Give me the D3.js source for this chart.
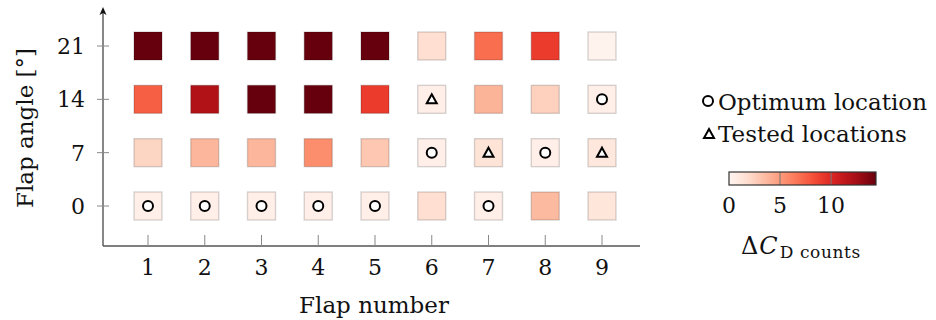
<!DOCTYPE html>
<html><head><meta charset="utf-8">
<script src="https://cdn.jsdelivr.net/npm/d3@7"></script>
<style>
html,body{margin:0;padding:0;background:#fff;}
svg{display:block;}
svg text{font-family:"DejaVu Serif",serif;}
</style></head>
<body><svg id="chart" width="936" height="320"></svg>
<script>
// ---- data ----
const flaps = [1, 2, 3, 4, 5, 6, 7, 8, 9];
const angles = [0, 7, 14, 21];
const values0  = [0.5, 0.5, 0.5, 0.5, 0.5, 1.7, 0.5, 3.6, 1.2];
const values7  = [2.3, 3.8, 3.8, 5.6, 3.0, 0.5, 1.4, 0.5, 1.1];
const values14 = [7.6, 12.0, 15.0, 15.0, 9.1, 0.5, 3.9, 2.5, 0.5];
const values21 = [15.0, 15.0, 15.0, 15.0, 15.0, 1.7, 7.0, 9.1, 0.2];
const optimumFlaps  = [1, 2, 3, 4, 5, 7, 6, 8, 9];
const optimumAngles = [0, 0, 0, 0, 0, 0, 7, 7, 14];
const testedFlaps  = [6, 7, 9];
const testedAngles = [14, 7, 7];
const xTicks = [1, 2, 3, 4, 5, 6, 7, 8, 9];
const yTicks = [0, 7, 14, 21];
const cbTicks = [0, 5, 10];
const cbMax = 14.4;

const valuesByAngle = {0: values0, 7: values7, 14: values14, 21: values21};
const cells = [];
angles.forEach(a => flaps.forEach((f, i) => cells.push({flap: f, angle: a, v: valuesByAngle[a][i]})));

const svg = d3.select("#chart");
const x = d3.scaleLinear().domain([1, 9]).range([148, 602]);
const y = d3.scaleLinear().domain([0, 21]).range([206, 46]);
const color = v => d3.interpolateReds(Math.min(v, cbMax) / cbMax);

const axisColor = "#555";
const x0 = 103, yBase = 246;
const FS = 23, TS = 22;

// squares
const S = 28;
svg.append("g").selectAll("rect").data(cells).join("rect")
  .attr("x", d => x(d.flap) - S / 2).attr("y", d => y(d.angle) - S / 2)
  .attr("width", S).attr("height", S)
  .attr("fill", d => color(d.v))
  .attr("stroke", "#000").attr("stroke-opacity", 0.16).attr("stroke-width", 1.4);

// axes
const ax = svg.append("g");
ax.append("line").attr("x1", x0).attr("x2", 640).attr("y1", yBase).attr("y2", yBase)
  .attr("stroke", axisColor).attr("stroke-width", 1.4);
ax.append("line").attr("x1", x0).attr("x2", x0).attr("y1", yBase).attr("y2", 10)
  .attr("stroke", axisColor).attr("stroke-width", 1.4);
ax.append("path").attr("d", `M${x0},7 L${x0 - 3.5},15 L${x0},13 L${x0 + 3.5},15 Z`).attr("fill", "#111");

// x ticks
ax.selectAll(".xt").data(xTicks).join("line")
  .attr("x1", d => x(d)).attr("x2", d => x(d)).attr("y1", yBase - 11).attr("y2", yBase)
  .attr("stroke", "#888").attr("stroke-width", 1);
ax.selectAll(".xl").data(xTicks).join("text")
  .attr("x", d => x(d)).attr("y", 275).attr("text-anchor", "middle")
  .attr("font-size", TS).attr("fill", "#111").text(d => d);
// y ticks
ax.selectAll(".yt").data(yTicks).join("line")
  .attr("x1", x0 - 6).attr("x2", x0 + 6).attr("y1", d => y(d)).attr("y2", d => y(d))
  .attr("stroke", "#888").attr("stroke-width", 1);
ax.selectAll(".yl").data(yTicks).join("text")
  .attr("x", 85).attr("y", d => y(d) + 8).attr("text-anchor", "end")
  .attr("font-size", TS).attr("fill", "#111").text(d => d);

// axis labels
svg.append("text").attr("x", 374).attr("y", 313).attr("text-anchor", "middle")
  .attr("font-size", FS).attr("fill", "#111").text("Flap number");
svg.append("text").attr("transform", "translate(33,128) rotate(-90)").attr("text-anchor", "middle")
  .attr("font-size", FS).attr("fill", "#111").text("Flap angle [°]");

// markers
const triPath = (cx, cy) => `M${cx},${cy - 5} L${cx + 5},${cy + 4} L${cx - 5},${cy + 4} Z`;
svg.append("g").selectAll("circle").data(optimumFlaps.map((f, i) => [f, optimumAngles[i]])).join("circle")
  .attr("cx", d => x(d[0])).attr("cy", d => y(d[1])).attr("r", 5)
  .attr("fill", "#fff").attr("stroke", "#000").attr("stroke-width", 2);
svg.append("g").selectAll("path").data(testedFlaps.map((f, i) => [f, testedAngles[i]])).join("path")
  .attr("d", d => triPath(x(d[0]), y(d[1])))
  .attr("fill", "#fff").attr("stroke", "#000").attr("stroke-width", 2).attr("stroke-linejoin", "miter");

// legend
const lg = svg.append("g");
lg.append("circle").attr("cx", 708).attr("cy", 101).attr("r", 5)
  .attr("fill", "#fff").attr("stroke", "#000").attr("stroke-width", 2);
lg.append("text").attr("x", 718).attr("y", 110).attr("font-size", FS)
  .attr("fill", "#111").text("Optimum location");
lg.append("path").attr("d", triPath(709, 134))
  .attr("fill", "#fff").attr("stroke", "#000").attr("stroke-width", 2);
lg.append("text").attr("x", 718).attr("y", 142).attr("font-size", FS)
  .attr("fill", "#111").text("Tested locations");

// colorbar
const cb = d3.scaleLinear().domain([0, cbMax]).range([729, 876]);
const defs = svg.append("defs");
const grad = defs.append("linearGradient").attr("id", "cbg");
d3.range(0, 1.0001, 0.05).forEach(t => grad.append("stop").attr("offset", t).attr("stop-color", d3.interpolateReds(t)));
svg.append("rect").attr("x", cb(0)).attr("y", 172).attr("width", cb(cbMax) - cb(0)).attr("height", 13)
  .attr("fill", "url(#cbg)");
svg.selectAll(".cbt").data(cbTicks.slice(1)).join("line")
  .attr("x1", d => cb(d)).attr("x2", d => cb(d)).attr("y1", 172).attr("y2", 185)
  .attr("stroke", "#777").attr("stroke-width", 1);
svg.append("rect").attr("x", cb(0)).attr("y", 172).attr("width", cb(cbMax) - cb(0)).attr("height", 13)
  .attr("fill", "none").attr("stroke", "#333").attr("stroke-width", 1.2);
svg.selectAll(".cbl").data(cbTicks).join("text")
  .attr("x", d => cb(d)).attr("y", 213).attr("text-anchor", "middle")
  .attr("font-size", TS).attr("fill", "#111").text(d => d);
const lab = svg.append("text").attr("x", 741).attr("y", 254).attr("font-size", 24).attr("fill", "#111");
lab.append("tspan").text("Δ");
lab.append("tspan").attr("font-style", "italic").attr("dx", 1).text("C");
lab.append("tspan").attr("font-size", 17).attr("letter-spacing", 0.6).attr("dy", 4).attr("dx", 2).text("D counts");
</script>
</body></html>
